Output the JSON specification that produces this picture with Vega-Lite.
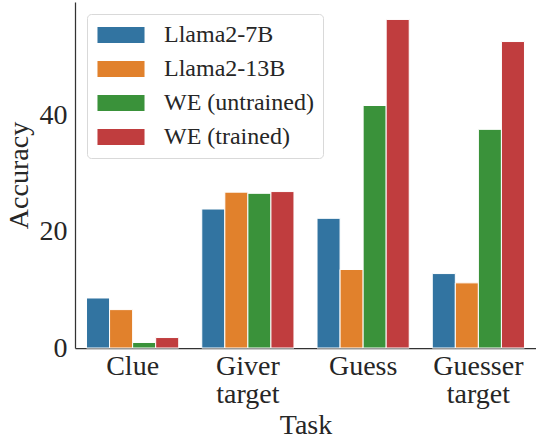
{
  "$schema": "https://vega.github.io/schema/vega-lite/v6.json",
  "width": 461,
  "height": 346,
  "autosize": {"type": "none"},
  "padding": {"left": 75, "top": 2, "right": 0, "bottom": 93},
  "background": "white",
  "data": {
    "values": [
      {"Task": "Clue", "Model": "Llama2-7B", "Accuracy": 8.6},
      {"Task": "Clue", "Model": "Llama2-13B", "Accuracy": 6.6},
      {"Task": "Clue", "Model": "WE (untrained)", "Accuracy": 0.95},
      {"Task": "Clue", "Model": "WE (trained)", "Accuracy": 1.8},
      {"Task": "Giver target", "Model": "Llama2-7B", "Accuracy": 23.9},
      {"Task": "Giver target", "Model": "Llama2-13B", "Accuracy": 26.8},
      {"Task": "Giver target", "Model": "WE (untrained)", "Accuracy": 26.6},
      {"Task": "Giver target", "Model": "WE (trained)", "Accuracy": 26.9},
      {"Task": "Guess", "Model": "Llama2-7B", "Accuracy": 22.3},
      {"Task": "Guess", "Model": "Llama2-13B", "Accuracy": 13.5},
      {"Task": "Guess", "Model": "WE (untrained)", "Accuracy": 41.7},
      {"Task": "Guess", "Model": "WE (trained)", "Accuracy": 56.5},
      {"Task": "Guesser target", "Model": "Llama2-7B", "Accuracy": 12.8},
      {"Task": "Guesser target", "Model": "Llama2-13B", "Accuracy": 11.2},
      {"Task": "Guesser target", "Model": "WE (untrained)", "Accuracy": 37.6},
      {"Task": "Guesser target", "Model": "WE (trained)", "Accuracy": 52.7}
    ]
  },
  "config": {
    "font": "Times New Roman",
    "view": {"stroke": null},
    "axis": {
      "domainColor": "#333333",
      "domainWidth": 1.25,
      "ticks": false,
      "grid": false,
      "labelColor": "#262626",
      "titleColor": "#262626",
      "labelFont": "Times New Roman",
      "titleFont": "Times New Roman",
      "labelFontSize": 28,
      "titleFontSize": 28,
      "titleFontWeight": "normal"
    }
  },
  "mark": {"type": "bar", "stroke": "white", "strokeWidth": 1},
  "encoding": {
    "x": {
      "field": "Task",
      "type": "nominal",
      "sort": ["Clue", "Giver target", "Guess", "Guesser target"],
      "scale": {"paddingInner": 0.2, "paddingOuter": 0.1},
      "axis": {
        "title": "Task",
        "labelAngle": 0,
        "labelPadding": 4,
        "labelExpr": "split(datum.label, ' ')",
        "labelLineHeight": 28,
        "titlePadding": 3
      }
    },
    "xOffset": {
      "field": "Model",
      "type": "nominal",
      "sort": ["Llama2-7B", "Llama2-13B", "WE (untrained)", "WE (trained)"],
      "scale": {"paddingInner": 0, "paddingOuter": 0}
    },
    "y": {
      "field": "Accuracy",
      "type": "quantitative",
      "scale": {"domain": [0, 59.5], "nice": false},
      "axis": {
        "title": "Accuracy",
        "values": [0, 20, 40],
        "labelPadding": 8,
        "titlePadding": 6
      }
    },
    "color": {
      "field": "Model",
      "type": "nominal",
      "sort": ["Llama2-7B", "Llama2-13B", "WE (untrained)", "WE (trained)"],
      "scale": {
        "domain": ["Llama2-7B", "Llama2-13B", "WE (untrained)", "WE (trained)"],
        "range": ["#3274a1", "#e1812c", "#3a923a", "#c03d3e"]
      },
      "legend": {
        "title": null,
        "orient": "none",
        "legendX": 12,
        "legendY": 12,
        "fillColor": "white",
        "strokeColor": "#d9d9d9",
        "cornerRadius": 4,
        "padding": 9,
        "symbolType": "M-1.96,-0.667H1.96V0.667H-1.96Z",
        "symbolSize": 576,
        "symbolOffset": 13,
        "symbolStrokeWidth": 0,
        "symbolOpacity": 1,
        "labelFont": "Times New Roman",
        "labelFontSize": 24,
        "labelColor": "#262626",
        "labelOffset": 31,
        "rowPadding": 10,
        "labelLimit": 400
      }
    }
  }
}
